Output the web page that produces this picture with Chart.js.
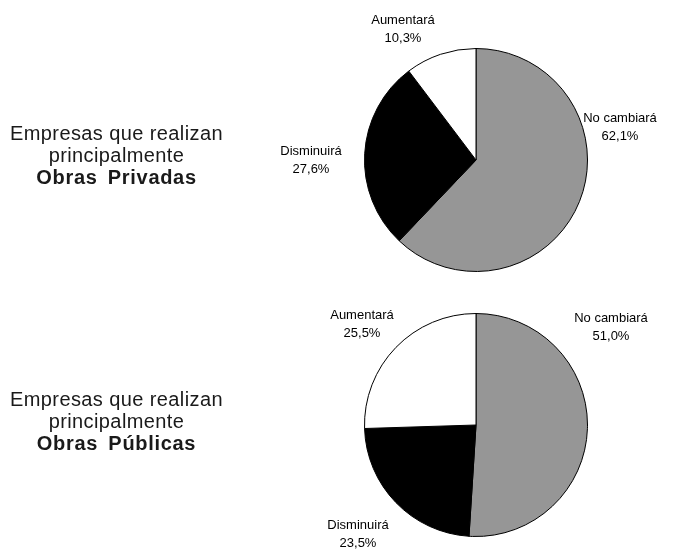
<!DOCTYPE html>
<html>
<head>
<meta charset="utf-8">
<script src="https://cdn.jsdelivr.net/npm/chart.js@4.4.0/dist/chart.umd.min.js"></script>
<style>
  html, body { margin: 0; padding: 0; background: #ffffff; }
  #wrap { position: relative; width: 674px; height: 550px; overflow: hidden; }
  canvas { position: absolute; left: 0; }
  .title { position: absolute; left: 0; width: 233px; text-align: center;
           font-family: "Liberation Sans", Arial, sans-serif; font-size: 20px;
           letter-spacing: 0.4px; line-height: 22px; color: #1a1a1a; }
  .title b { letter-spacing: 0.7px; word-spacing: 4px; }
</style>
</head>
<body>
<div id="wrap">
  <canvas id="c1" width="674" height="280" style="top:0"></canvas>
  <canvas id="c2" width="674" height="270" style="top:280px"></canvas>
  <div class="title" style="top:122px">Empresas que realizan<br>principalmente<br><b>Obras Privadas</b></div>
  <div class="title" style="top:388px">Empresas que realizan<br>principalmente<br><b>Obras Públicas</b></div>
</div>
<script>
const categories = ["No cambiará", "Disminuirá", "Aumentará"];
const privadasValues = [62.1, 27.6, 10.3];
const publicasValues = [51.0, 23.5, 25.5];
const sliceColors = ["#969696", "#000000", "#ffffff"];

function fmt(v) { return v.toFixed(1).replace(".", ",") + "%"; }

// label offsets (text centre relative to pie centre), one per category
const labelPlugin = {
  id: "sliceLabels",
  afterDraw(chart) {
    const offs = chart.options.plugins.sliceLabels.offsets;
    const meta = chart.getDatasetMeta(0);
    const ctx = chart.ctx;
    const data = chart.data.datasets[0].data;
    ctx.save();
    ctx.fillStyle = "#000000";
    ctx.font = "13px 'Liberation Sans', Arial, sans-serif";
    ctx.textAlign = "center";
    ctx.textBaseline = "middle";
    meta.data.forEach((arc, i) => {
      const cx = arc.x + offs[i][0];
      const cy = arc.y + offs[i][1];
      ctx.fillText(chart.data.labels[i], cx, cy - 9);
      ctx.fillText(fmt(data[i]), cx, cy + 9);
    });
    ctx.restore();
  }
};

function makePie(id, values, padding, offsets) {
  return new Chart(document.getElementById(id), {
    type: "pie",
    data: {
      labels: categories,
      datasets: [{
        data: values,
        backgroundColor: sliceColors,
        borderColor: "#000000",
        borderWidth: 1,
        hoverOffset: 0
      }]
    },
    options: {
      responsive: false,
      animation: false,
      events: [],
      layout: { padding: padding },
      plugins: {
        legend: { display: false },
        tooltip: { enabled: false },
        sliceLabels: { offsets: offsets }
      }
    },
    plugins: [labelPlugin]
  });
}

makePie("c1", privadasValues,
  { left: 364, right: 86, top: 48, bottom: 8 },
  [[144, -33], [-165, 0], [-73, -131]]);
makePie("c2", publicasValues,
  { left: 364, right: 86, top: 33, bottom: 13 },
  [[135, -98], [-118, 109], [-114, -101]]);
</script>
</body>
</html>
